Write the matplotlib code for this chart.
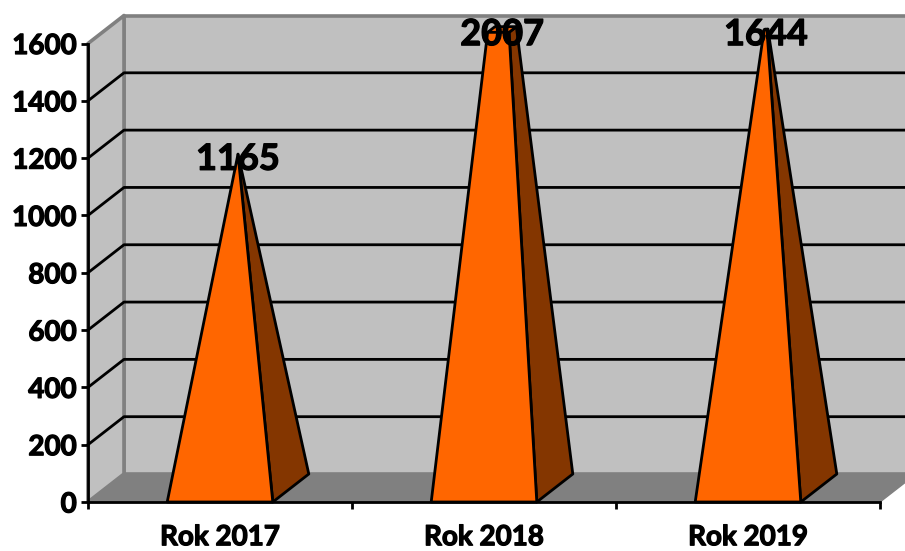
import matplotlib
matplotlib.use("Agg")
import matplotlib.pyplot as plt
import matplotlib.patheffects as pe
from matplotlib.patches import Polygon

plt.rcParams['font.family'] = ['Lato', 'DejaVu Sans']
plt.rcParams['font.weight'] = 'bold'

categories = ["Rok 2017", "Rok 2018", "Rok 2019"]
values = [1165, 2007, 1644]
y_ticks = [0, 200, 400, 600, 800, 1000, 1200, 1400, 1600]

W, H = 905, 551
y_max = 1600
# front plane of the chart box, in pixels
left, right, bottom, top = 88, 880, 502, 43.5
# depth of the 3d box, converted to data units
dx = 36 / ((right - left) / 3)
dy = 28 / ((bottom - top) / y_max)
half = 0.2  # half width of a pyramid base
heavy = [pe.withStroke(linewidth=0.9, foreground='black')]

fig = plt.figure(figsize=(W / 100, H / 100), dpi=100)
ax = fig.add_axes([left / W, 1 - bottom / H, (right - left) / W, (bottom - top) / H])
ax.set_xlim(0, 3)
ax.set_ylim(0, y_max)
ax.patch.set_visible(False)


def poly(pts, fc, ec, lw, z):
    ax.add_patch(Polygon(pts, closed=True, facecolor=fc, edgecolor=ec, linewidth=lw,
                         joinstyle='round', clip_on=False, zorder=z))


# walls and floor
poly([(dx, dy), (3 + dx, dy), (3 + dx, y_max + dy), (dx, y_max + dy)], '#c0c0c0', '#808080', 2.6, 1)
poly([(0, 0), (dx, dy), (dx, y_max + dy), (0, y_max)], '#c0c0c0', '#808080', 2.6, 1)
poly([(0, 0), (3, 0), (3 + dx, dy), (dx, dy)], '#808080', '#808080', 1, 2)

for t in y_ticks[1:-1]:
    ax.plot([0, dx, 3 + dx], [t, t + dy, t + dy], color='black', lw=2, clip_on=False, zorder=2)

# pyramids, cut off at the top of the axis
for i, v in enumerate(values):
    c = i + 0.5
    ax_x = c + dx / 2
    ax_y = dy / 2 + v
    f = min(1, y_max / v)

    def cut(x, y):
        return (x + (ax_x - x) * f, y + (ax_y - y) * f)

    fl, fr = (c - half, 0), (c + half, 0)
    br = (c + half + dx, dy)
    bl = (c - half + dx, dy)
    poly([br, fr, cut(*fr), cut(*br)], '#843600', 'black', 2, 3)
    if f < 1:
        poly([cut(*fl), cut(*fr), cut(*br), cut(*bl)], '#ff6600', 'black', 2, 3)
    poly([fl, fr, cut(*fr), cut(*fl)], '#ff6600', 'black', 2, 4)
    label_y = min(v, y_max) + dy / 2 - 18
    ax.text(ax_x, label_y, str(v), ha='center', va='center', fontsize=26, color='black',
            clip_on=False, zorder=6, path_effects=heavy)

for s in ['top', 'right']:
    ax.spines[s].set_visible(False)
for s in ['left', 'bottom']:
    ax.spines[s].set_linewidth(2)
    ax.spines[s].set_zorder(5)

ax.set_yticks(y_ticks)
ax.set_yticklabels([str(t) for t in y_ticks], fontsize=20, path_effects=heavy)
ax.tick_params(axis='y', length=5, width=2, pad=3)
ax.set_xticks([0, 1, 2, 3])
ax.set_xticklabels([])
ax.tick_params(axis='x', which='major', length=5, width=2)
ax.set_xticks([0.5, 1.5, 2.5], minor=True)
ax.set_xticklabels(categories, minor=True, fontsize=20, path_effects=heavy)
ax.tick_params(axis='x', which='minor', length=0, pad=16)

fig.savefig('out.png', dpi=100)
